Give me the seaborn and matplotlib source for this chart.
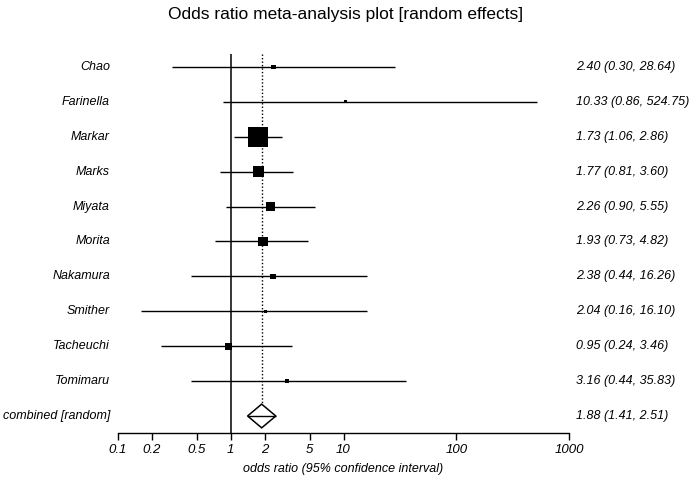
import numpy as np
import pandas as pd
import matplotlib
matplotlib.use("Agg")
import matplotlib.pyplot as plt
import seaborn as sns
from matplotlib.ticker import FixedLocator, NullLocator

sns.set_theme(style="white")
plt.rcParams["font.family"] = ["Liberation Sans", "DejaVu Sans"]
plt.rcParams["text.color"] = "black"
plt.rcParams["xtick.color"] = "black"
plt.rcParams["axes.labelcolor"] = "black"

# study data
studies = ["Chao", "Farinella", "Markar", "Marks", "Miyata", "Morita",
           "Nakamura", "Smither", "Tacheuchi", "Tomimaru"]
odds = [2.40, 10.33, 1.73, 1.77, 2.26, 1.93, 2.38, 2.04, 0.95, 3.16]
lower = [0.30, 0.86, 1.06, 0.81, 0.90, 0.73, 0.44, 0.16, 0.24, 0.44]
upper = [28.64, 524.75, 2.86, 3.60, 5.55, 4.82, 16.26, 16.10, 3.46, 35.83]
weights = [1.2, 0.6, 20.0, 6.5, 4.5, 4.5, 1.6, 0.6, 2.7, 1.1]  # box size ~ weight

comb_label = "combined [random]"
comb_or, comb_lo, comb_hi = 1.88, 1.41, 2.51

xticks = [0.1, 0.2, 0.5, 1, 2, 5, 10, 100, 1000]
xticklabels = ["0.1", "0.2", "0.5", "1", "2", "5", "10", "100", "1000"]

df = pd.DataFrame({"study": studies, "OR": odds, "lo": lower, "hi": upper, "w": weights})
df["row"] = np.arange(len(df))
comb_row = len(df)

fig = plt.figure(figsize=(6.92, 4.80), dpi=100)
ax = fig.add_axes([118 / 692, 1 - 433 / 480, 451 / 692, (433 - 54) / 480])

# confidence intervals
ax.hlines(df["row"], df["lo"], df["hi"], color="black", lw=1, zorder=2)

# weighted boxes
sns.scatterplot(data=df, x="OR", y="row", size="w", sizes=(5, 210), marker="s",
                color="black", edgecolor="black", linewidth=0, legend=False, ax=ax, zorder=3)

# reference line at 1 and dotted combined line
ax.axvline(1, color="black", lw=1.1, zorder=1)
ax.vlines(comb_or, -0.37, comb_row - 0.34, color="black", lw=1, linestyles=(0, (1, 1.5)), zorder=1)

# combined diamond
dx = [comb_lo, comb_or, comb_hi, comb_or, comb_lo]
dy = [comb_row, comb_row - 0.34, comb_row, comb_row + 0.34, comb_row]
ax.fill(dx, dy, facecolor="white", edgecolor="black", lw=1.1, zorder=4)
ax.hlines(comb_row, comb_lo, comb_hi, color="black", lw=1, zorder=5)

ax.set_xscale("log")
ax.set_xlim(0.1, 1000)
ax.set_ylim(comb_row + 0.487, -0.37)
ax.xaxis.set_major_locator(FixedLocator(xticks))
ax.xaxis.set_minor_locator(NullLocator())
ax.set_xticklabels(xticklabels, fontstyle="italic", fontsize=9.5)
ax.tick_params(axis="x", direction="out", length=5, width=1, color="black", pad=3, bottom=True)
ax.set_yticks([])
ax.set_ylabel("")
for s in ["top", "right", "left"]:
    ax.spines[s].set_visible(False)
ax.spines["bottom"].set_color("black")
ax.spines["bottom"].set_linewidth(1)

# labels left and right
labels = studies + [comb_label]
texts = [f"{o:.2f} ({l:.2f}, {h:.2f})" for o, l, h in zip(odds, lower, upper)]
texts.append(f"{comb_or:.2f} ({comb_lo:.2f}, {comb_hi:.2f})")
trans = ax.get_yaxis_transform()
for i, (lab, txt) in enumerate(zip(labels, texts)):
    ax.text(-0.018, i, lab, transform=trans, ha="right", va="center",
            fontstyle="italic", fontsize=9)
    ax.text(1.016, i, txt, transform=trans, ha="left", va="center",
            fontstyle="italic", fontsize=9)

ax.set_xlabel("odds ratio (95% confidence interval)", fontstyle="italic", fontsize=9, labelpad=5)
fig.suptitle("Odds ratio meta-analysis plot [random effects]", fontsize=12.5, y=0.985)

fig.savefig("out.png", dpi=100, facecolor="white")
